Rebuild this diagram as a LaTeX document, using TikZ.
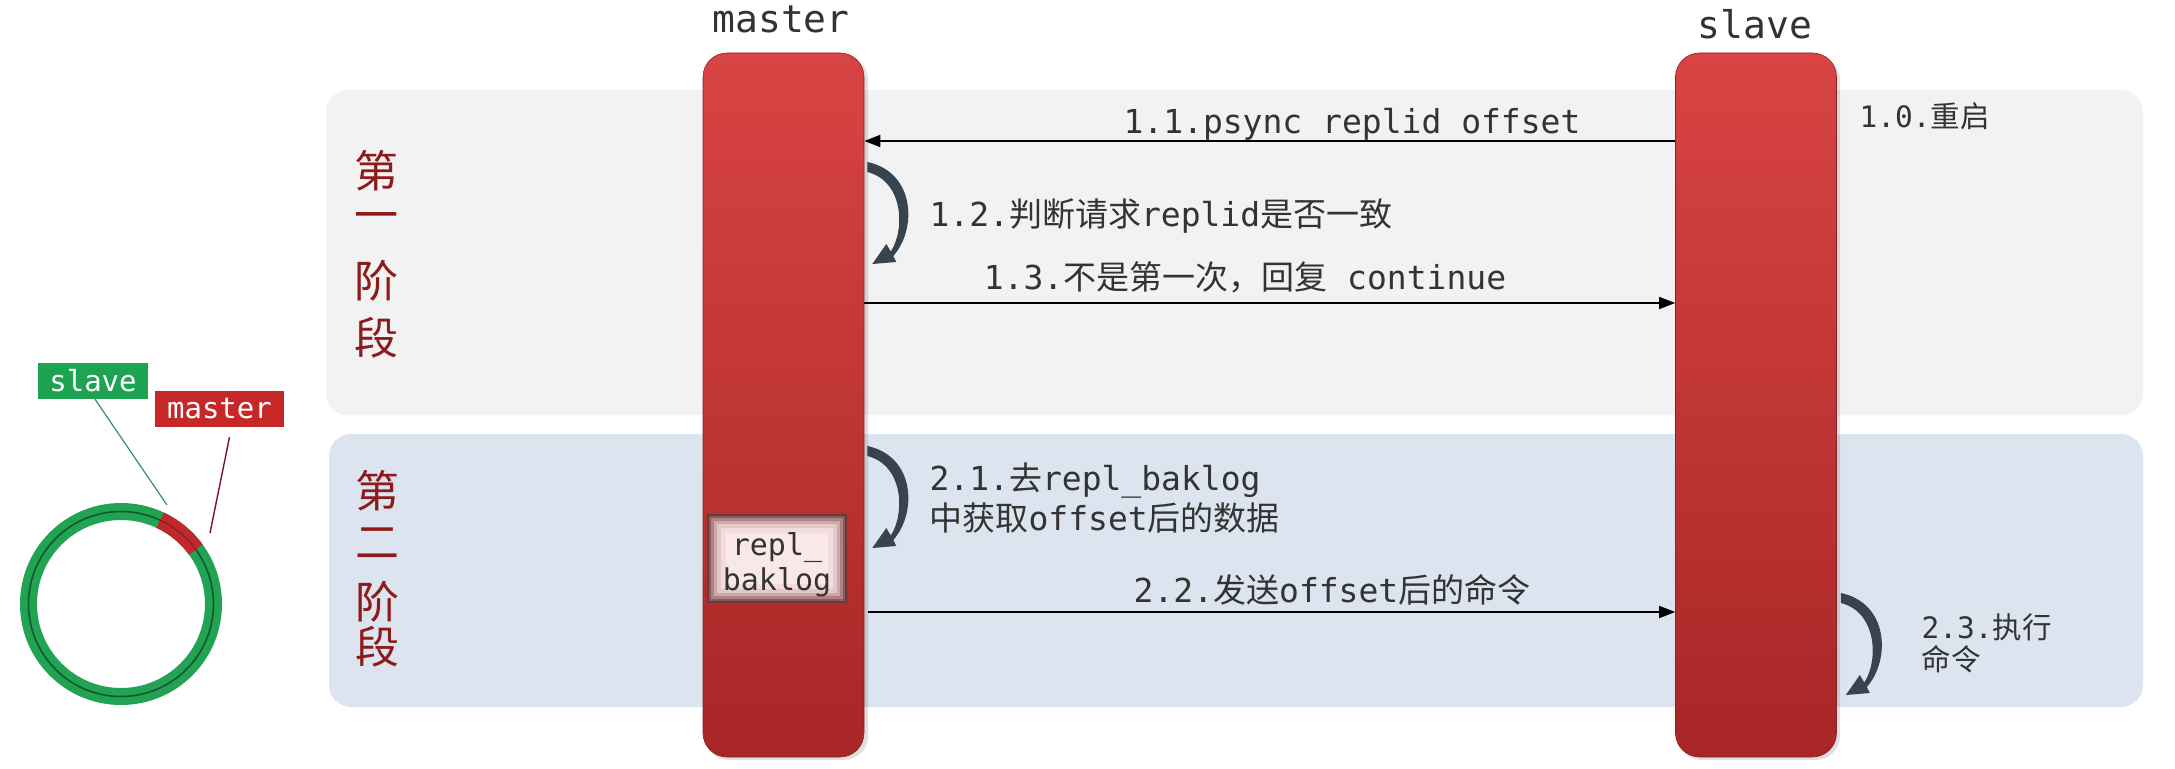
\documentclass[tikz,border=0pt]{standalone}
\usepackage{fontspec}
\setmonofont{DejaVu Sans Mono}
\newfontfamily\cjk{Noto Sans CJK SC}
\usetikzlibrary{arrows.meta}
\newcommand{\zh}[1]{{\cjk #1}}
\definecolor{bandA}{HTML}{F2F2F2}
\definecolor{bandB}{HTML}{DCE5EF}
\definecolor{lifeTop}{HTML}{D84444}
\definecolor{lifeBot}{HTML}{A82626}
\definecolor{txt}{HTML}{333333}
\definecolor{loopc}{HTML}{37434D}
\definecolor{phasec}{HTML}{8E1B1B}
\definecolor{ringG}{HTML}{21A353}
\definecolor{ringD}{HTML}{0E5A2C}
\definecolor{ringR}{HTML}{C0282C}
\definecolor{lblG}{HTML}{1EA352}
\definecolor{lblR}{HTML}{C62828}
\tikzset{
  band/.style={rounded corners=22pt},
  lifeline/.style={rectangle, rounded corners=24pt, minimum width=161pt, minimum height=704pt,
    inner sep=0pt, top color=lifeTop, bottom color=lifeBot, draw=lifeBot!85!black, line width=0.6pt},
  headtxt/.style={font=\ttfamily\fontsize{38}{42}\selectfont, text=txt, anchor=base},
  msgtxt/.style={font=\ttfamily\fontsize{33}{40}\selectfont, text=txt, anchor=base},
  smalltxt/.style={font=\ttfamily\fontsize{29.5}{34}\selectfont, text=txt, anchor=base west},
  msg/.style={draw=black, line width=1.5pt, -{Triangle[length=16pt,width=12pt]}},
  phasech/.style={font=\cjk\fontsize{44}{44}\selectfont, text=phasec, inner sep=0pt},
  tag/.style={font=\ttfamily\fontsize{29}{32}\selectfont, text=white, inner sep=0pt, minimum height=36pt},
  selfloop/.pic={
    \fill[loopc] (0,-5) .. controls (48,5) and (50,62) .. (26,89) -- (29,95) -- (5,97) -- (19,77)
      -- (23.5,84.5) .. controls (38,62) and (36,14) .. (0,5) -- cycle;
  }
}
\begin{document}
\begin{tikzpicture}[x=1pt,y=-1pt]
\useasboundingbox (0,0) rectangle (2175,768);
\fill[white] (0,0) rectangle (2175,768);
% bands
\fill[bandA, band] (326,90) rectangle (2143,415);
\fill[bandB, band] (329,434) rectangle (2143,707);
% lifeline shadows
\fill[black, opacity=0.12, rounded corners=24pt] (705,56) rectangle (868,760);
\fill[black, opacity=0.12, rounded corners=24pt] (1678,56) rectangle (1840,760);
% lifelines
\node[lifeline] (mline) at (783.5,405) {};
\node[lifeline] (sline) at (1756,405) {};
\node[headtxt] (mlabel) at (781,33) {master};
\node[headtxt] (slabel) at (1755,38) {slave};
% phase labels
\node[phasech] (p1a) at (376,171) {第};
\node[phasech] (p1b) at (376,222) {一};
\node[phasech] (p1c) at (376,281) {阶};
\node[phasech] (p1d) at (376,338) {段};
\node[phasech] (p2a) at (377,491) {第};
\node[phasech] (p2b) at (377,543) {二};
\node[phasech] (p2c) at (377,602) {阶};
\node[phasech] (p2d) at (377,647) {段};
% phase 1 messages
\draw[msg] (sline.west |- 0,141) -- (mline.east |- 0,141);
\node[msgtxt] (t11) at (1352,133) {1.1.psync replid offset};
\node[smalltxt] (t10) at (1856,127) {1.0.\zh{重启}};
\pic at ([xshift=3pt]mline.east |- 0,167) {selfloop};
\node[msgtxt, anchor=base west] (t12) at (926,226) {1.2.\zh{判断请求}replid\zh{是否一致}};
\draw[msg] (mline.east |- 0,303) -- (sline.west |- 0,303);
\node[msgtxt] (t13) at (1245,289) {1.3.\zh{不是第一次，回复} continue};
% phase 2
\pic at ([xshift=3pt]mline.east |- 0,451) {selfloop};
\node[msgtxt, anchor=base west] (t21a) at (926,490) {2.1.\zh{去}repl\_baklog};
\node[msgtxt, anchor=base west] (t21b) at (926,530) {\zh{中获取}offset\zh{后的数据}};
% repl_baklog box (inner shadow)
\fill[fill={rgb,255:red,105;green,58;blue,58}] (707,514) rectangle (847,603);
\fill[fill={rgb,255:red,140;green,90;blue,90}] (709,516) rectangle (845,601);
\fill[fill={rgb,255:red,175;green,130;blue,130}] (711,518) rectangle (843,599);
\fill[fill={rgb,255:red,205;green,170;blue,170}] (714,521) rectangle (840,596);
\fill[fill={rgb,255:red,228;green,200;blue,200}] (717,524) rectangle (837,593);
\fill[fill={rgb,255:red,242;green,220;blue,220}] (721,528) rectangle (833,589);
\fill[fill={rgb,255:red,248;green,232;blue,232}] (726,533) rectangle (828,584);
\node[font=\ttfamily\fontsize{30}{33}\selectfont, text=txt, anchor=base] (rb1) at (777,555) {repl\_};
\node[font=\ttfamily\fontsize{30}{33}\selectfont, text=txt, anchor=base] (rb2) at (777,590) {baklog};
\draw[msg] ([xshift=4pt]mline.east |- 0,612) -- (sline.west |- 0,612);
\node[msgtxt] (t22) at (1332,602) {2.2.\zh{发送}offset\zh{后的命令}};
\pic at ([xshift=4pt]sline.east |- 0,598) {selfloop};
\node[smalltxt] (t23a) at (1918,638) {2.3.\zh{执行}};
\node[smalltxt] (t23b) at (1918,670) {\zh{命令}};
% ring
\begin{scope}[shift={(121,604)}, y=1pt]
  \draw[ringG, line width=17pt] (0,0) circle[radius=92.5pt];
  \draw[ringD, line width=1.6pt] (0,0) circle[radius=92.5pt];
  \draw[ringR, line width=17pt] (36:92.5pt) arc[start angle=36, end angle=65, radius=92.5pt];
  \draw[ringR!70!black, line width=1pt] (36:92.5pt) arc[start angle=36, end angle=65, radius=92.5pt];
  \coordinate (rs) at (46,99);
  \coordinate (rm) at (89,71);
\end{scope}
\node[tag, fill=lblG, minimum width=110pt] (lslave) at (93,381) {slave};
\node[tag, fill=lblR, minimum width=129pt] (lmaster) at (219.5,409) {master};
\draw[color={rgb,255:red,60;green,140;blue,110}, line width=1.2pt] ([xshift=2pt]lslave.south) -- (rs);
\draw[color={rgb,255:red,120;green,20;blue,40}, line width=1.4pt] ([xshift=10pt,yshift=-10pt]lmaster.south) -- (rm);
\end{tikzpicture}
\end{document}
